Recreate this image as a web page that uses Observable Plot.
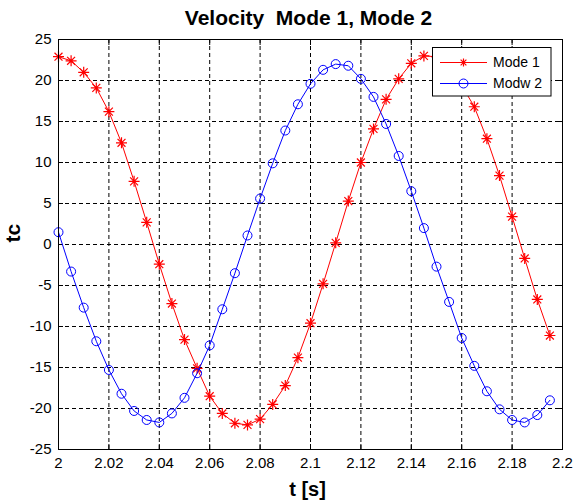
<!DOCTYPE html>
<html>
<head>
<meta charset="utf-8">
<script src="https://cdn.jsdelivr.net/npm/d3@7"></script>
<script src="https://cdn.jsdelivr.net/npm/@observablehq/plot@0.6"></script>
<style>
  html, body { margin: 0; padding: 0; background: #fff; }
  svg text { white-space: pre; }
</style>
</head>
<body>
<div id="chart"></div>
<script>
const title = "Velocity  Mode 1, Mode 2";
const xLabel = "t [s]";
const yLabel = "tc";
const seriesNames = ["Mode 1", "Modw 2"];
const xTicks = [2, 2.02, 2.04, 2.06, 2.08, 2.1, 2.12, 2.14, 2.16, 2.18, 2.2];
const yTicks = [-25, -20, -15, -10, -5, 0, 5, 10, 15, 20, 25];
const times = [2.000, 2.005, 2.010, 2.015, 2.020, 2.025, 2.030, 2.035, 2.040, 2.045,
               2.050, 2.055, 2.060, 2.065, 2.070, 2.075, 2.080, 2.085, 2.090, 2.095,
               2.100, 2.105, 2.110, 2.115, 2.120, 2.125, 2.130, 2.135, 2.140, 2.145,
               2.150, 2.155, 2.160, 2.165, 2.170, 2.175, 2.180, 2.185, 2.190, 2.195];
const mode1 = [22.9, 22.4, 21.0, 19.1, 16.2, 12.4, 7.7, 2.7, -2.4, -7.2,
               -11.6, -15.1, -18.5, -20.6, -21.8, -22.0, -21.3, -19.5, -17.2, -13.8,
               -9.6, -4.8, 0.2, 5.3, 10.0, 14.1, 17.7, 20.2, 22.1, 23.0,
               22.9, 22.0, 19.4, 16.8, 12.9, 8.4, 3.4, -1.7, -6.7, -11.1];
const mode2 = [1.5, -3.3, -7.7, -11.8, -15.3, -18.2, -20.3, -21.4, -21.7, -20.6,
               -18.7, -15.7, -12.3, -7.9, -3.5, 1.1, 5.6, 9.9, 13.9, 17.1,
               19.6, 21.3, 22.0, 21.8, 20.2, 18.0, 14.7, 10.8, 6.5, 2.0,
               -2.7, -7.0, -11.4, -14.8, -17.9, -20.1, -21.4, -21.7, -20.8, -19.0];

const d1 = times.map((t, i) => ({t, v: mode1[i]}));
const d2 = times.map((t, i) => ({t, v: mode2[i]}));

// MATLAB-like '*' marker: plus + x
const star = {
  draw(ctx, size) {
    const r = Math.sqrt(size / Math.PI);
    const s = r * 0.72;
    ctx.moveTo(0, -r); ctx.lineTo(0, r);
    ctx.moveTo(-r, 0); ctx.lineTo(r, 0);
    ctx.moveTo(-s, -s); ctx.lineTo(s, s);
    ctx.moveTo(-s, s); ctx.lineTo(s, -s);
  }
};

const fmt = d => String(+d.toFixed(2));
const font = "'Liberation Sans', Arial, Helvetica, sans-serif";

const chart = Plot.plot({
  width: 574,
  height: 501,
  marginLeft: 58,
  marginRight: 12,
  marginTop: 39,
  marginBottom: 52,
  style: {fontFamily: font, fontSize: "15px", background: "white", color: "black", overflow: "visible"},
  x: {domain: [2, 2.2]},
  y: {domain: [-25, 25]},
  marks: [
    Plot.gridX(xTicks, {stroke: "black", strokeOpacity: 1, strokeDasharray: "4,3", strokeWidth: 1}),
    Plot.gridY(yTicks, {stroke: "black", strokeOpacity: 1, strokeDasharray: "4,3", strokeWidth: 1}),
    Plot.axisX(xTicks, {anchor: "bottom", tickSize: 0, tickPadding: 8, tickFormat: fmt, label: null, fontSize: 15}),
    Plot.axisY(yTicks, {anchor: "left", tickSize: 0, tickPadding: 7, tickFormat: d => String(d), label: null, fontSize: 15}),
    Plot.axisX(xTicks, {anchor: "bottom", tickSize: -5, tickFormat: () => "", label: null}),
    Plot.axisX(xTicks, {anchor: "top", tickSize: -5, tickFormat: () => "", label: null}),
    Plot.axisY(yTicks, {anchor: "left", tickSize: -5, tickFormat: () => "", label: null}),
    Plot.axisY(yTicks, {anchor: "right", tickSize: -5, tickFormat: () => "", label: null}),
    Plot.line(d1, {x: "t", y: "v", stroke: "red", strokeWidth: 1}),
    Plot.dot(d1, {x: "t", y: "v", symbol: star, r: 5.5, stroke: "red", fill: "none", strokeWidth: 1.2}),
    Plot.line(d2, {x: "t", y: "v", stroke: "blue", strokeWidth: 1}),
    Plot.dot(d2, {x: "t", y: "v", r: 4.5, stroke: "blue", fill: "none", strokeWidth: 1}),
    Plot.frame({stroke: "black", strokeWidth: 1}),
    Plot.text([title], {frameAnchor: "top", dy: -21, dx: -2, lineAnchor: "middle", fontSize: 21, fontWeight: "bold", fill: "black"}),
    Plot.text([xLabel], {frameAnchor: "bottom", dy: 40, dx: -3, lineAnchor: "middle", fontSize: 20, fontWeight: "bold", fill: "black"}),
    Plot.text([yLabel], {frameAnchor: "left", dx: -45, dy: -2, rotate: -90, lineAnchor: "middle", fontSize: 21, fontWeight: "bold", fill: "black"})
  ]
});

document.getElementById("chart").appendChild(chart);

// Legend (MATLAB-style boxed legend, upper right)
const svg = d3.select(chart);
const lg = svg.append("g").attr("text-anchor", "start");
lg.append("rect").attr("x", 432.5).attr("y", 47.5).attr("width", 118.5).attr("height", 48.5)
  .attr("fill", "white").attr("stroke", "black").attr("stroke-width", 1);
const colors = ["red", "blue"];
[62.5, 83.5].forEach((yy, i) => {
  lg.append("line").attr("x1", 440).attr("x2", 487).attr("y1", yy).attr("y2", yy)
    .attr("stroke", colors[i]).attr("stroke-width", 1);
  const sym = d3.path();
  if (i === 0) {
    star.draw(sym, Math.PI * 4 * 4);
    lg.append("path").attr("d", sym.toString()).attr("transform", `translate(463.5,${yy})`)
      .attr("stroke", "red").attr("fill", "none").attr("stroke-width", 1.2);
  } else {
    lg.append("circle").attr("cx", 463.5).attr("cy", yy).attr("r", 4.5)
      .attr("stroke", "blue").attr("fill", "none");
  }
  lg.append("text").attr("x", 493).attr("y", yy).attr("dy", "0.35em").attr("fill", "black")
    .attr("text-anchor", "start")
    .style("font-family", font).style("font-size", "14px")
    .text(seriesNames[i]);
});
</script>
</body>
</html>
